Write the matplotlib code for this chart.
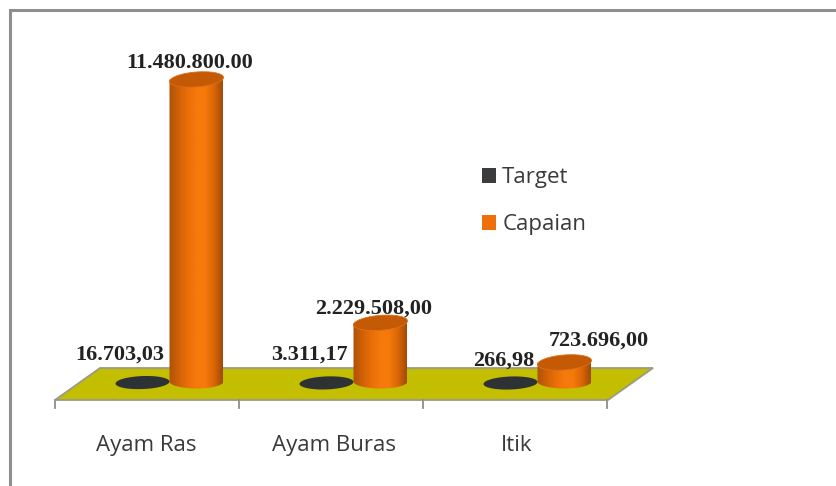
import numpy as np
import matplotlib
matplotlib.use('Agg')
import matplotlib.pyplot as plt
from matplotlib.patches import PathPatch, Polygon, Patch
from matplotlib.path import Path
from matplotlib.colors import LinearSegmentedColormap

categories = ['Ayam Ras', 'Ayam Buras', 'Itik']
target = [16703.03, 3311.17, 266.98]
capaian = [11480800.00, 2229508.00, 723696.00]
target_labels = ['16.703,03', '3.311,17', '266,98']
capaian_labels = ['11.480.800.00', '2.229.508,00', '723.696,00']

W, H = 836, 486
# scales of the picture: one category = 184 px, 302 px up to the tallest bar
px_x = 1 / 184
px_y = 11480800 / 302
x0, y0 = 147.5, 381.5

fig = plt.figure(figsize=(W / 100, H / 100), dpi=100, facecolor='white')
ax = fig.add_axes([0, 0, 1, 1])
ax.set_xlim(-x0 * px_x, (W - x0) * px_x)
ax.set_ylim((y0 - H) * px_y, y0 * px_y)
ax.axis('off')


def X(p):
    return (p - x0) * px_x


def Y(p):
    return (y0 - p) * px_y


def disc(xc, v, width, height, tilt):
    # ellipse leaning up to the right, sizes in px
    t = np.linspace(0, 2 * np.pi, 80)
    xs = xc + width / 2 * np.cos(t) * px_x
    ys = v + (height / 2 * np.sin(t) + tilt * np.cos(t)) * px_y
    return np.column_stack([xs, ys])


# frame, runs off the right and the bottom
ax.plot([X(10), X(10), X(W)], [Y(H), Y(10), Y(10)], color='#8e8e8e', lw=2.2,
        solid_joinstyle='miter', zorder=1)

# floor
floor = Polygon([(X(55), Y(400)), (X(100), Y(368)), (X(653), Y(368)), (X(608), Y(400))],
                closed=True, facecolor='#c3bf00', edgecolor='#9a9a86', lw=1.3, zorder=2)
ax.add_patch(floor)
for i in range(len(categories) + 1):
    xt = i - 0.5
    ax.plot([xt, xt], [Y(400), Y(408)], color='#8e8e8e', lw=1.3, zorder=2)

orange = LinearSegmentedColormap.from_list(
    'orange', ['#ac5208', '#d06006', '#e86e08', '#f5790b', '#f67a0b', '#dc6707', '#a04a06'])
grad = np.linspace(0, 1, 128).reshape(1, -1)

bar_w = 54 * px_x
ell_h = 14 * px_y
offset = 22 * px_x
gap = 27 * px_x


def cylinder(xc, v, z):
    left, right = xc - bar_w / 2, xc + bar_w / 2
    t = np.linspace(np.pi, 2 * np.pi, 40)
    xb = xc + bar_w / 2 * np.cos(t)
    yb = ell_h / 2 * np.sin(t)
    verts = list(zip(xb, yb)) + [(right, v), (left, v)]
    body = PathPatch(Path(verts + [verts[0]]), facecolor='none', edgecolor='none', zorder=z)
    ax.add_patch(body)
    im = ax.imshow(grad, cmap=orange, extent=[left, right, -ell_h, v], aspect='auto',
                   interpolation='bilinear', zorder=z)
    im.set_clip_path(body)
    ax.add_patch(Polygon(disc(xc, v, 54, 15, 2), closed=True, facecolor='#c45a06',
                         edgecolor='#dd7018', lw=0.6, zorder=z + 0.1))


for i in range(len(categories)):
    # target is so small next to capaian that it reads as a flat disc
    ax.add_patch(Polygon(disc(i + offset - gap, target[i] - 1.5 * px_y, 54, 13, 1), closed=True,
                         facecolor='#2f3234', edgecolor='none', zorder=3))
    cylinder(i + offset + gap, capaian[i], 4)

lab = dict(family='Liberation Serif', fontweight='bold', fontsize=16, color='#222222', zorder=6)
target_pos = [(120, 354.5), (309.5, 354.5), (504, 360.5)]
cap_pos = [(190, 62.5), (373.5, 308.5), (599, 340.5)]
for i in range(len(categories)):
    ax.text(X(target_pos[i][0]), Y(target_pos[i][1]), target_labels[i], ha='center', va='center', **lab)
    ax.text(X(cap_pos[i][0]), Y(cap_pos[i][1]), capaian_labels[i], ha='center', va='center', **lab)

cat_x = [146.5, 334, 517]
for i, c in enumerate(categories):
    ax.text(X(cat_x[i]), Y(445), c, ha='center', va='center', family='Open Sans', fontsize=16,
            color='#3a3a3a')

handles = [Patch(facecolor='#3a3c3e', label='Target'), Patch(facecolor='#ee6f0b', label='Capaian')]
leg = ax.legend(handles=handles, loc='upper left', bbox_to_anchor=(462 / W, 1 - 147.5 / H),
                frameon=False, prop={'family': 'Open Sans', 'size': 16},
                labelspacing=1.15, handlelength=0.64, handleheight=0.64, handletextpad=0.27)
for t in leg.get_texts():
    t.set_color('#3a3a3a')

fig.savefig('out.png', dpi=100)
